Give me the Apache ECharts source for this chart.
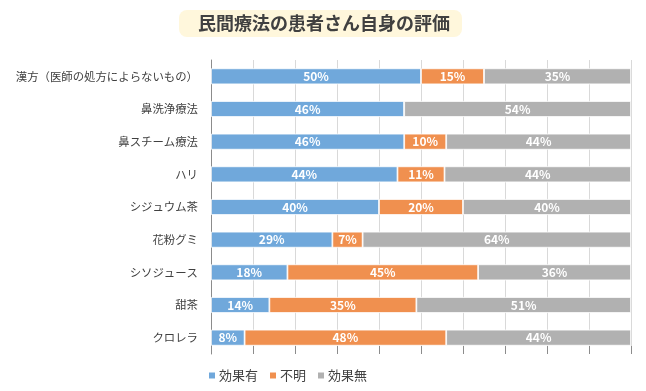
<!DOCTYPE html>
<html>
<head>
<meta charset="utf-8">
<script src="https://cdn.jsdelivr.net/npm/echarts@6/dist/echarts.min.js"></script>
<style>
html,body{margin:0;padding:0;background:#fff;}
#c{width:646px;height:391px;}
</style>
</head>
<body>
<div id="c"></div>
<script>
const categories = ['漢方（医師の処方によらないもの）','鼻洗浄療法','鼻スチーム療法','ハリ','シジュウム茶','花粉グミ','シソジュース','甜茶','クロレラ'];
const effective = [50, 46, 46, 44.4, 40, 28.9, 18.2, 13.9, 8];
const unknown   = [15, 0, 10, 11.2, 20, 7.2, 45.4, 35, 48];
const noEffect  = [35, 54, 44, 44.4, 40, 63.9, 36.4, 51.1, 44];
const seriesNames = ['効果有','不明','効果無'];
const xTicks = [0,10,20,30,40,50,60,70,80,90,100];

const FONT = '"Noto Sans CJK JP", "Noto Sans", sans-serif';
const colors = ['#70a8db','#f0904f','#b1b1b1'];
const chart = echarts.init(document.getElementById('c'));

function mk(name, data, color){
  return {
    name: name, type: 'bar', stack: 'total', data: data, barWidth: 16,
    itemStyle: {color: color, borderColor: '#ffffff', borderWidth: 0.8},
    label: {
      show: true, position: 'inside', color: '#ffffff', fontWeight: 'bold',
      fontSize: 12, fontFamily: FONT,
      formatter: p => p.value > 0 ? Math.round(p.value) + '%' : ''
    },
    emphasis: {disabled: true}, animation: false
  };
}

chart.setOption({
  animation: false,
  textStyle: {fontFamily: FONT},
  title: {
    text: '民間療法の患者さん自身の評価',
    left: 179, top: 10,
    backgroundColor: '#fff7dc',
    borderRadius: 8,
    padding: [4, 12, 4, 19],
    textStyle: {fontSize: 18, fontWeight: 'bold', color: '#404040', fontFamily: FONT, lineHeight: 19}
  },
  legend: {
    data: seriesNames,
    left: 202, top: 364,
    itemWidth: 8, itemHeight: 8, itemGap: 10,
    icon: 'rect',
    textStyle: {fontSize: 13, color: '#404040', fontFamily: FONT, padding: [0,0,0,-2]}
  },
  grid: {left: 211, right: 15, top: 60, bottom: 37, containLabel: false},
  xAxis: {
    type: 'value', min: 0, max: 100, interval: 10,
    axisLine: {show: false},
    axisTick: {show: true, inside: true, length: 8, lineStyle: {color: '#8c8c8c'}},
    axisLabel: {show: false},
    splitLine: {show: true, lineStyle: {color: '#d9d9d9', width: 1}}
  },
  yAxis: {
    type: 'category', data: categories, inverse: true,
    axisLine: {show: true, lineStyle: {color: '#8c8c8c', width: 1}},
    axisTick: {show: false},
    axisLabel: {fontSize: 11.4, color: '#404040', margin: 13, fontFamily: FONT}
  },
  series: [
    mk(seriesNames[0], effective, colors[0]),
    mk(seriesNames[1], unknown, colors[1]),
    mk(seriesNames[2], noEffect, colors[2])
  ]
});
</script>
</body>
</html>
